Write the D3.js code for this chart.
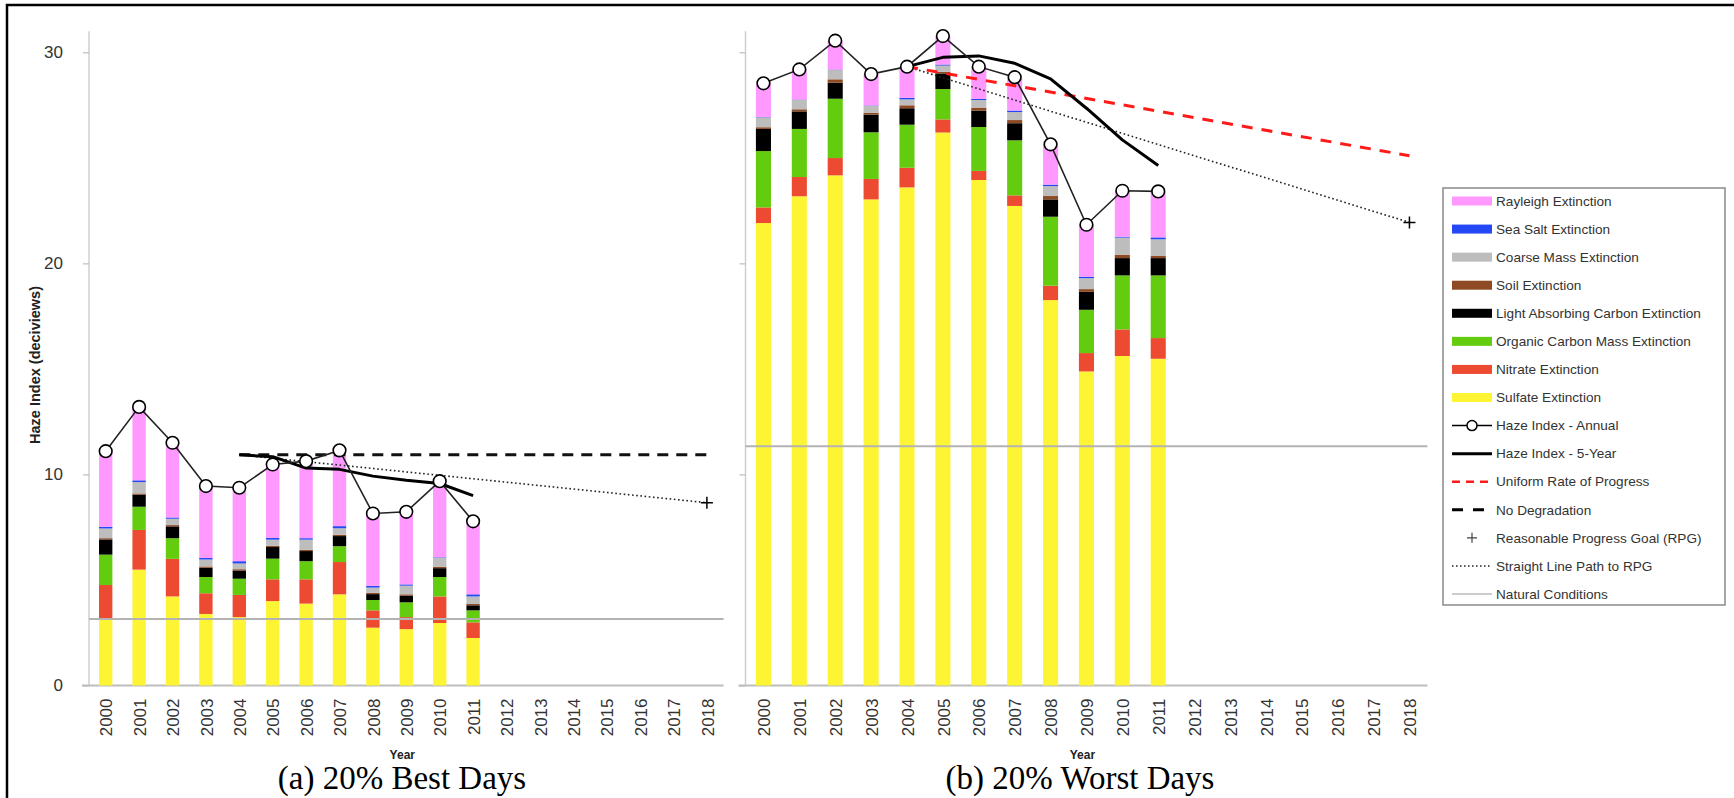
<!DOCTYPE html>
<html>
<head>
<meta charset="utf-8">
<script src="https://cdn.jsdelivr.net/npm/d3@7"></script>
<style>
  html, body { margin: 0; padding: 0; background: #fff; }
  svg { display: block; }
</style>
</head>
<body>
<svg id="chart" width="1734" height="798"></svg>
<script>
// ---------------- DATA ----------------
const tickYears = ["2000","2001","2002","2003","2004","2005","2006","2007","2008","2009","2010","2011","2012","2013","2014","2015","2016","2017","2018"];
const dataYears = ["2000","2001","2002","2003","2004","2005","2006","2007","2008","2009","2010","2011"];
const fiveYearYears = ["2004","2005","2006","2007","2008","2009","2010","2011"];
const yTicks = [0, 10, 20, 30];

// stacked from bottom to top
const componentNames = ["Sulfate Extinction","Nitrate Extinction","Organic Carbon Mass Extinction","Light Absorbing Carbon Extinction","Soil Extinction","Coarse Mass Extinction","Sea Salt Extinction","Rayleigh Extinction"];
const componentColors = ["#FDF533","#EC4A31","#63CC0F","#000000","#8E4A22","#BDBDBD","#2448F5","#FF99FF"];

// 20% Best Days (deciviews)
const bestSulfate  = [3.15, 5.49, 4.22, 3.39, 3.24, 4.00, 3.88, 4.32, 2.74, 2.67, 2.96, 2.25];
const bestNitrate  = [1.61, 1.88, 1.78, 0.98, 1.05, 1.03, 1.15, 1.53, 0.82, 0.57, 1.26, 0.74];
const bestOC       = [1.44, 1.10, 0.98, 0.77, 0.77, 0.98, 0.86, 0.75, 0.49, 0.70, 0.92, 0.57];
const bestLAC      = [0.72, 0.57, 0.56, 0.44, 0.39, 0.55, 0.48, 0.48, 0.28, 0.32, 0.42, 0.24];
const bestSoil     = [0.06, 0.06, 0.06, 0.06, 0.06, 0.06, 0.06, 0.06, 0.06, 0.06, 0.06, 0.06];
const bestCoarse   = [0.46, 0.54, 0.30, 0.33, 0.27, 0.29, 0.48, 0.31, 0.25, 0.41, 0.44, 0.36];
const bestSeaSalt  = [0.08, 0.08, 0.06, 0.07, 0.11, 0.08, 0.07, 0.10, 0.08, 0.06, 0.02, 0.10];
const bestRayleigh = [3.58, 3.48, 3.54, 3.41, 3.48, 3.48, 3.65, 3.59, 3.43, 3.44, 3.60, 3.46];
const bestAnnual   = [11.10, 13.20, 11.50, 9.45, 9.37, 10.47, 10.63, 11.14, 8.15, 8.23, 9.68, 7.78];
const bestFiveYear = [10.93, 10.84, 10.30, 10.24, 9.92, 9.72, 9.57, 9.00];
const bestNoDegradation = [10.93, 10.93];     // 2004 -> 2018
const bestPathToRPG     = [10.93, 8.66];      // 2004 -> 2018
const bestRPG           = 8.66;               // 2018
const bestNatural       = 3.15;

// 20% Worst Days (deciviews)
const worstSulfate  = [21.91, 23.18, 24.17, 23.03, 23.60, 26.20, 23.95, 22.72, 18.26, 14.88, 15.61, 15.48];
const worstNitrate  = [0.74, 0.91, 0.82, 0.97, 0.93, 0.62, 0.43, 0.50, 0.68, 0.87, 1.26, 0.98];
const worstOC       = [2.67, 2.28, 2.81, 2.21, 2.04, 1.44, 2.08, 2.61, 3.27, 2.05, 2.56, 2.97];
const worstLAC      = [1.05, 0.83, 0.76, 0.84, 0.78, 0.74, 0.78, 0.81, 0.82, 0.85, 0.82, 0.82];
const worstSoil     = [0.08, 0.10, 0.16, 0.09, 0.14, 0.08, 0.14, 0.15, 0.16, 0.13, 0.16, 0.10];
const worstCoarse   = [0.47, 0.44, 0.44, 0.32, 0.28, 0.29, 0.36, 0.38, 0.47, 0.52, 0.81, 0.79];
const worstSeaSalt  = [0.02, 0.02, 0.02, 0.02, 0.07, 0.05, 0.05, 0.07, 0.07, 0.07, 0.04, 0.09];
const worstRayleigh = [1.59, 1.43, 1.37, 1.49, 1.48, 1.35, 1.53, 1.58, 1.91, 2.46, 2.18, 2.18];
const worstAnnual   = [28.53, 29.19, 30.55, 28.97, 29.32, 30.77, 29.32, 28.82, 25.64, 21.83, 23.44, 23.41];
const worstFiveYear = [29.32, 29.76, 29.83, 29.48, 28.74, 27.35, 25.85, 24.64];
const worstURP          = [29.32, 25.10];     // 2004 -> 2018
const worstPathToRPG    = [29.32, 21.94];     // 2004 -> 2018
const worstRPG          = 21.94;              // 2018
const worstNatural      = 11.34;

const lineYears = ["2004", "2018"];

const legendItems = ["Rayleigh Extinction","Sea Salt Extinction","Coarse Mass Extinction","Soil Extinction","Light Absorbing Carbon Extinction","Organic Carbon Mass Extinction","Nitrate Extinction","Sulfate Extinction","Haze Index - Annual","Haze Index - 5-Year","Uniform Rate of Progress","No Degradation","Reasonable Progress Goal (RPG)","Straight Line Path to RPG","Natural Conditions"];

// ---------------- DRAW ----------------
const svg = d3.select("#chart");
const axisFont = "'Liberation Sans', Arial, sans-serif";

const y = d3.scaleLinear().domain([0, 30]).range([685.5, 52.3]);

// outer frame
svg.append("rect").attr("x", 7).attr("y", 5).attr("width", 1760).attr("height", 820)
  .attr("fill", "none").attr("stroke", "#000").attr("stroke-width", 2.5);

function panel(cfg) {
  const g = svg.append("g");
  const x = d3.scalePoint().domain(tickYears).range([cfg.x0, cfg.x1]).padding(0.5);
  const bw = x.step() * cfg.barFrac;

  // y axis
  g.append("line").attr("x1", cfg.x0).attr("x2", cfg.x0).attr("y1", y(31.0)).attr("y2", y(0))
    .attr("stroke", "#cfcfcf").attr("stroke-width", 1.5);
  const yAx = g.append("g").attr("transform", `translate(${cfg.x0},0)`)
    .call(d3.axisLeft(y).tickValues(yTicks).tickSize(6).tickPadding(cfg.labels ? 20 : 0).tickFormat(cfg.labels ? d3.format("d") : ""));
  yAx.select(".domain").remove();
  yAx.selectAll(".tick line").attr("stroke", "#bdbdbd").attr("stroke-width", 1.2);
  yAx.selectAll(".tick text").attr("font-family", axisFont).attr("font-size", 17).attr("fill", "#333");

  // x axis
  const xAx = g.append("g").attr("transform", `translate(0,${y(0)})`)
    .call(d3.axisBottom(x).tickSize(0).tickPadding(0));
  xAx.select(".domain").remove();
  g.append("line").attr("x1", cfg.x0 - 7).attr("x2", cfg.x1).attr("y1", y(0)).attr("y2", y(0))
    .attr("stroke", "#bdbdbd").attr("stroke-width", 2);
  xAx.selectAll(".tick text")
    .attr("font-family", axisFont).attr("font-size", 17).attr("fill", "#333")
    .attr("text-anchor", "end").attr("transform", "rotate(-90)")
    .attr("x", -13).attr("y", 0).attr("dy", "0.36em");

  // stacked bars
  const rows = dataYears.map((yr, i) => {
    const r = { year: yr };
    cfg.series.forEach((s, k) => r[componentNames[k]] = s[i]);
    return r;
  });
  const stack = d3.stack().keys(componentNames)(rows);
  stack.forEach((layer, k) => {
    g.append("g").selectAll("rect").data(layer).join("rect")
      .attr("x", d => x(d.data.year) - bw / 2)
      .attr("width", bw)
      .attr("y", d => y(d[1]))
      .attr("height", d => Math.max(0, y(d[0]) - y(d[1])))
      .attr("fill", componentColors[k]);
  });

  // natural conditions
  g.append("line").attr("x1", cfg.x0).attr("x2", cfg.x1)
    .attr("y1", y(cfg.natural)).attr("y2", y(cfg.natural))
    .attr("stroke", "#b3b3b3").attr("stroke-width", 2);

  const line2 = d3.line().x(d => x(d[0])).y(d => y(d[1]));

  // straight line path to RPG
  g.append("path").attr("d", line2(lineYears.map((yr, i) => [yr, cfg.path[i]])))
    .attr("fill", "none").attr("stroke", "#222").attr("stroke-width", 1.6).attr("stroke-dasharray", "1.6,2.6");

  if (cfg.noDeg) {
    g.append("path").attr("d", line2(lineYears.map((yr, i) => [yr, cfg.noDeg[i]])))
      .attr("fill", "none").attr("stroke", "#111").attr("stroke-width", 3).attr("stroke-dasharray", "11,8");
  }
  if (cfg.urp) {
    g.append("path").attr("d", line2(lineYears.map((yr, i) => [yr, cfg.urp[i]])))
      .attr("fill", "none").attr("stroke", "#ff1a1a").attr("stroke-width", 3).attr("stroke-dasharray", "11,9");
  }

  // 5-year
  g.append("path").attr("d", line2(fiveYearYears.map((yr, i) => [yr, cfg.five[i]])))
    .attr("fill", "none").attr("stroke", "#000").attr("stroke-width", 3).attr("stroke-linejoin", "round");

  // annual
  const ann = dataYears.map((yr, i) => [yr, cfg.annual[i]]);
  g.append("path").attr("d", line2(ann))
    .attr("fill", "none").attr("stroke", "#222").attr("stroke-width", 1.6);
  g.append("g").selectAll("circle").data(ann).join("circle")
    .attr("cx", d => x(d[0])).attr("cy", d => y(d[1])).attr("r", 6.3)
    .attr("fill", "#fff").attr("stroke", "#000").attr("stroke-width", 1.6);

  // RPG marker
  const px = x("2018"), py = y(cfg.rpg);
  g.append("path").attr("d", `M${px - 6},${py}H${px + 6}M${px},${py - 6}V${py + 6}`)
    .attr("stroke", "#000").attr("stroke-width", 1.5).attr("fill", "none");

  // axis title + caption
  const cx = (cfg.x0 + cfg.x1) / 2;
  g.append("text").attr("x", cx - 4).attr("y", 759).attr("text-anchor", "middle")
    .attr("font-family", axisFont).attr("font-weight", "bold").attr("font-size", 12).attr("fill", "#222")
    .text("Year");
  g.append("text").attr("x", cfg.capX).attr("y", 789).attr("text-anchor", "middle")
    .attr("font-family", "'Liberation Serif', 'Times New Roman', serif").attr("font-size", 33).attr("fill", "#000")
    .text(cfg.caption);
}

panel({
  x0: 89, x1: 723.6, barFrac: 0.4, labels: true, capX: 402,
  series: [bestSulfate, bestNitrate, bestOC, bestLAC, bestSoil, bestCoarse, bestSeaSalt, bestRayleigh],
  annual: bestAnnual, five: bestFiveYear, noDeg: bestNoDegradation, urp: null,
  path: bestPathToRPG, rpg: bestRPG, natural: bestNatural, caption: "(a) 20% Best Days"
});
panel({
  x0: 745.5, x1: 1427.4, barFrac: 0.42, labels: false, capX: 1080,
  series: [worstSulfate, worstNitrate, worstOC, worstLAC, worstSoil, worstCoarse, worstSeaSalt, worstRayleigh],
  annual: worstAnnual, five: worstFiveYear, noDeg: null, urp: worstURP,
  path: worstPathToRPG, rpg: worstRPG, natural: worstNatural, caption: "(b) 20% Worst Days"
});

// y-axis title
svg.append("text").attr("transform", "translate(40,365) rotate(-90)")
  .attr("text-anchor", "middle").attr("font-family", axisFont).attr("font-weight", "bold")
  .attr("font-size", 14.5).attr("fill", "#222").text("Haze Index (deciviews)");

// legend
const lg = svg.append("g");
lg.append("rect").attr("x", 1443).attr("y", 188).attr("width", 282).attr("height", 417)
  .attr("fill", "#fff").attr("stroke", "#8a8a8a").attr("stroke-width", 1.5);
const rowY = i => 201 + i * 28.07;
const sx0 = 1452, sx1 = 1492;
const swatchColor = {};
componentNames.forEach((n, k) => swatchColor[n] = componentColors[k]);
legendItems.forEach((name, i) => {
  const yy = rowY(i);
  if (swatchColor[name]) {
    lg.append("rect").attr("x", sx0).attr("y", yy - 4.5).attr("width", sx1 - sx0).attr("height", 9)
      .attr("fill", swatchColor[name]);
  } else if (name === "Haze Index - Annual") {
    lg.append("line").attr("x1", sx0).attr("x2", sx1).attr("y1", yy).attr("y2", yy).attr("stroke", "#000").attr("stroke-width", 1.5);
    lg.append("circle").attr("cx", (sx0 + sx1) / 2).attr("cy", yy).attr("r", 5).attr("fill", "#fff").attr("stroke", "#000").attr("stroke-width", 1.5);
  } else if (name === "Haze Index - 5-Year") {
    lg.append("line").attr("x1", sx0).attr("x2", sx1).attr("y1", yy).attr("y2", yy).attr("stroke", "#000").attr("stroke-width", 3);
  } else if (name === "Uniform Rate of Progress") {
    lg.append("line").attr("x1", sx0).attr("x2", sx1).attr("y1", yy).attr("y2", yy).attr("stroke", "#ff1a1a").attr("stroke-width", 2.5).attr("stroke-dasharray", "8,6");
  } else if (name === "No Degradation") {
    lg.append("line").attr("x1", sx0).attr("x2", sx0 + 32).attr("y1", yy).attr("y2", yy).attr("stroke", "#000").attr("stroke-width", 3).attr("stroke-dasharray", "11,10");
  } else if (name === "Reasonable Progress Goal (RPG)") {
    const c = (sx0 + sx1) / 2;
    lg.append("path").attr("d", `M${c - 5},${yy}H${c + 5}M${c},${yy - 5}V${yy + 5}`).attr("stroke", "#444").attr("stroke-width", 1.2);
  } else if (name === "Straight Line Path to RPG") {
    lg.append("line").attr("x1", sx0).attr("x2", sx1 - 2).attr("y1", yy).attr("y2", yy).attr("stroke", "#222").attr("stroke-width", 1.5).attr("stroke-dasharray", "1.5,2.5");
  } else if (name === "Natural Conditions") {
    lg.append("line").attr("x1", sx0).attr("x2", sx1).attr("y1", yy).attr("y2", yy).attr("stroke", "#999").attr("stroke-width", 1.2);
  }
  lg.append("text").attr("x", 1496).attr("y", yy).attr("dy", "0.35em")
    .attr("font-family", axisFont).attr("font-size", 13.6).attr("fill", "#333").text(name);
});
</script>
</body>
</html>
